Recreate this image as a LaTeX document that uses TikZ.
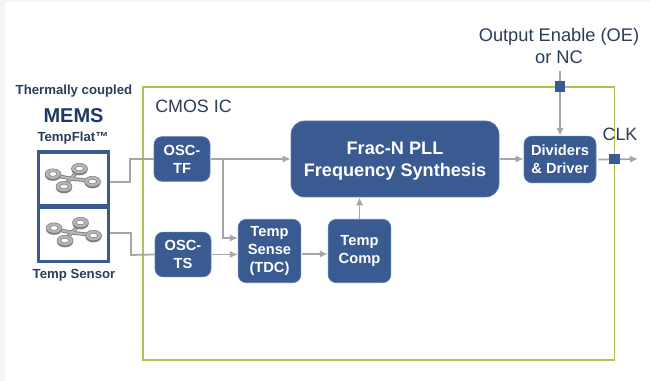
\documentclass[tikz,border=0pt]{standalone}
\usepackage{fontspec}
\setmainfont{Liberation Sans}
\usetikzlibrary{arrows.meta}
\definecolor{blk}{HTML}{3A5A92}
\definecolor{blkedge}{HTML}{5F7DAE}
\definecolor{ink}{HTML}{2B3D5B}
\definecolor{navy}{HTML}{1F3864}
\definecolor{icgreen}{HTML}{A9C458}
\definecolor{wire}{HTML}{A6A6A6}
\definecolor{ringfill}{HTML}{B5B5B5}
\definecolor{ringedge}{HTML}{7F7F7F}
\tikzset{
  x=0.75pt,y=-0.75pt,
  block/.style={draw=blkedge,line width=0.5pt,fill=blk,text=white,rounded corners=6pt,inner sep=0pt,align=center,font=\fontsize{11}{13.5}\selectfont\bfseries},
  wirearrow/.style={draw=wire,line width=1.3pt,-{Latex[length=6pt,width=5.5pt]}},
  wireplain/.style={draw=wire,line width=1.3pt},
  label/.style={text=ink,inner sep=0pt,align=center},
  pad/.style={draw=none,fill=blk,inner sep=0pt,minimum size=7.8pt},
  memscell/.style={draw=blk,line width=2.4pt,fill=white,inner sep=0pt,minimum width=52.5pt,minimum height=40.5pt},
}
\newcommand{\ring}[2]{%
  \fill[ringedge] (#1,#2+1.5) ellipse [x radius=6pt, y radius=4pt];
  \fill[ringfill] (#1,#2) ellipse [x radius=6pt, y radius=3.9pt];
  \fill[white] (#1,#2) ellipse [x radius=3.1pt, y radius=1.7pt];
  \draw[ringedge,line width=0.4pt] (#1,#2) ellipse [x radius=6pt, y radius=3.9pt];
  \draw[ringedge,line width=0.4pt] (#1,#2) ellipse [x radius=3.1pt, y radius=1.7pt];
}
\newcommand{\resonator}[2]{%
  \begin{scope}[shift={(#1,#2)}]
    \draw[ringedge,line width=2.8pt] (-20,-6) -- (0,-2) -- (19,0);
    \draw[ringedge,line width=2.8pt] (6,-11) -- (-9,5);
    \draw[ringfill,line width=1.5pt] (-20,-6) -- (0,-2) -- (19,0);
    \draw[ringfill,line width=1.5pt] (6,-11) -- (-9,5);
    \ring{-20}{-7}\ring{6.5}{-12.5}\ring{19.5}{0.5}\ring{-9}{5.5}
  \end{scope}
}
\begin{document}
\begin{tikzpicture}
\useasboundingbox (0,0) rectangle (650,381);
\fill[white] (0,0) rectangle (650,381);
\fill[black!4] (0,0) rectangle (650,2);
\fill[black!4] (0,0) rectangle (5,381);

% CMOS IC outline
\draw[icgreen,line width=1.3pt] (143,87) rectangle (614.5,360);
\node[label,anchor=west,font=\fontsize{13.4}{15}\selectfont] (cmos) at (155,106) {CMOS IC};

% MEMS package
\node[label,font=\fontsize{9.9}{11}\selectfont\bfseries] (thermal) at (74,91) {Thermally coupled};
\node[label,text=navy,font=\fontsize{15}{17}\selectfont\bfseries] (mems) at (73.5,115.5) {MEMS};
\node[label,font=\fontsize{9.9}{11}\selectfont\bfseries] (tempflat) at (73,138.5) {TempFlat™};
\node[memscell] (memsA) at (73.5,179) {};
\node[memscell] (memsB) at (73.5,234.5) {};
\node[label,font=\fontsize{9.9}{11}\selectfont\bfseries] (tempsensor) at (74,275) {Temp Sensor};
\resonator{73}{181}
\resonator{74}{235}

% Blocks
\node[block,minimum width=42pt,minimum height=33.5pt] (osctf) at (182,159) {OSC-\\TF};
\node[block,minimum width=42pt,minimum height=33.5pt] (oscts) at (183,254.5) {OSC-\\TS};
\node[block,minimum width=47pt,minimum height=47.5pt] (sense) at (269.5,251) {Temp\\Sense\\(TDC)};
\node[block,minimum width=47pt,minimum height=47.5pt] (comp) at (359.5,251) {Temp\\Comp};
\node[block,rounded corners=10pt,minimum width=156pt,minimum height=57pt,font=\fontsize{13.6}{16.5}\selectfont\bfseries] (pll) at (395,159) {\rule{0pt}{13pt}Frac-N PLL\\Frequency Synthesis};
\node[block,minimum width=54pt,minimum height=35pt] (div) at (560,159.5) {Dividers\\\& Driver};

% Labels and free ends
\node[label,font=\fontsize{13.7}{16.5}\selectfont] (oe) at (559,46) {Output Enable (OE)\\or NC};
\node[label,font=\fontsize{13.4}{16}\selectfont] (clk) at (620,134.5) {CLK};
\coordinate (oetop) at (560,71);
\coordinate (clkend) at (638,159);

% Connectors
\draw[wireplain] (memsA.east |- 0,182) -- (130,182) -- (130,159) -- (osctf.west);
\draw[wireplain] (memsB.east |- 0,233) -- (131,233) -- (131,255) -- (oscts.west);
\draw[wirearrow] (osctf.east) ++(1,0) -- (pll.west |- osctf.east);
\coordinate (branch) at (223,159);
\draw[wirearrow] (branch) -- (223,238) -- (sense.west |- 0,238);
\draw[wirearrow] (oscts.east) ++(1,0) -- (sense.west |- oscts.east);
\draw[wirearrow] (sense.east) ++(1,3) -- (comp.west |- 0,254);
\draw[wirearrow] (comp.north) -- (pll.south -| comp.north);
\draw[wirearrow] (pll.east) ++(1,0) -- (div.west |- pll.east);
\draw[wirearrow] (oetop) -- (div.north);
\draw[wirearrow] (div.east) ++(2,0) -- (clkend);

% Pads
\node[pad] (padoe) at (560,86.5) {};
\node[pad] (padclk) at (614.5,159) {};
\end{tikzpicture}
\end{document}
